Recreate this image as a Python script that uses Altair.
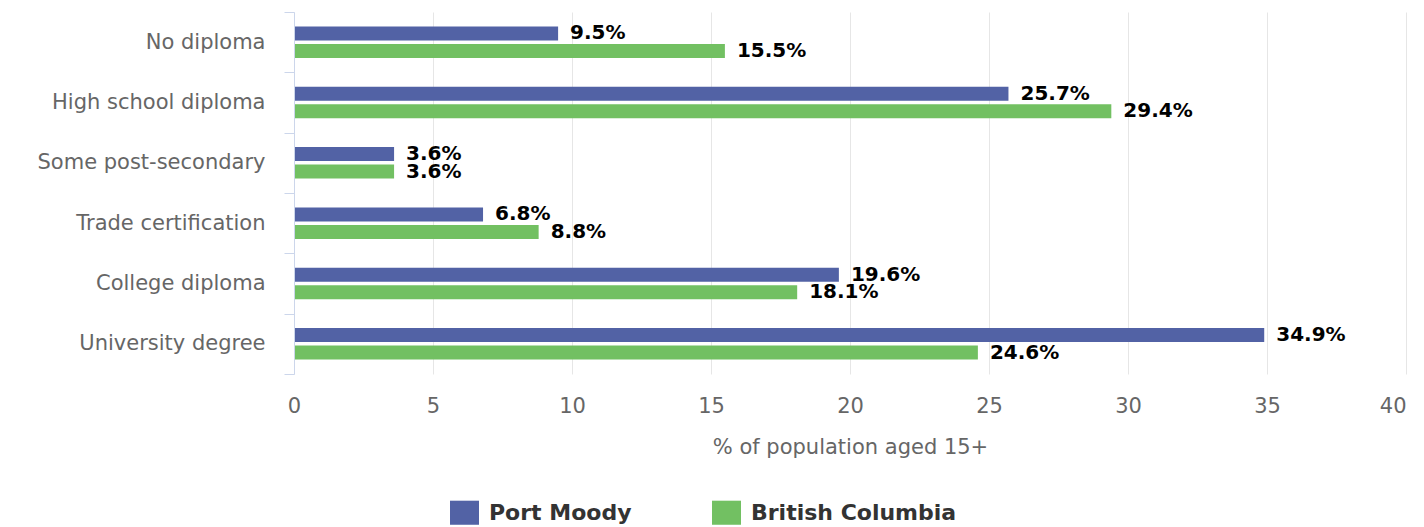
import altair as alt
import pandas as pd

categories = ["No diploma", "High school diploma", "Some post-secondary",
              "Trade certification", "College diploma", "University degree"]
series = ["Port Moody", "British Columbia"]
port_moody = [9.5, 25.7, 3.6, 6.8, 19.6, 34.9]
british_columbia = [15.5, 29.4, 3.6, 8.8, 18.1, 24.6]
colors = ["#5262a5", "#72c062"]
x_ticks = [0, 5, 10, 15, 20, 25, 30, 35, 40]

rows = []
for i, c in enumerate(categories):
    rows.append({"category": c, "series": series[0], "value": port_moody[i]})
    rows.append({"category": c, "series": series[1], "value": british_columbia[i]})
df = pd.DataFrame(rows)

FONT = "DejaVu Sans"

base = alt.Chart(df).transform_calculate(
    label="format(datum.value, '.1f') + '%'"
).encode(
    y=alt.Y("category:N", sort=categories,
            scale=alt.Scale(paddingInner=0, paddingOuter=0),
            axis=alt.Axis(title=None, labelFontSize=21, labelColor="#666666",
                          labelFont=FONT, labelPadding=19, labelLimit=400,
                          tickBand="extent", tickColor="#ccd6eb", tickSize=10,
                          domainColor="#ccd6eb", domainWidth=1, grid=False,
                          zindex=2)),
    yOffset=alt.YOffset("series:N", sort=series,
                        scale=alt.Scale(paddingInner=0.2, paddingOuter=0.82)),
    x=alt.X("value:Q", scale=alt.Scale(domain=[0, 40], nice=False),
            axis=alt.Axis(values=x_ticks, title="% of population aged 15+",
                          domain=False, ticks=False, tickSize=0,
                          grid=True, gridColor="#e6e6e6", gridWidth=1,
                          labelFlush=False,
                          labelAlign={"condition": {"test": "datum.value == 40", "value": "right"},
                                      "value": "center"},
                          labelFontSize=21, labelColor="#666666", labelFont=FONT,
                          labelPadding=21, titleFontSize=21, titleColor="#666666",
                          titleFont=FONT, titleFontWeight="normal", titlePadding=20,
                          zindex=0)),
)

bars = base.mark_bar().encode(
    color=alt.Color("series:N", sort=series,
                    scale=alt.Scale(domain=series, range=colors),
                    legend=alt.Legend(title=None, orient="none", direction="horizontal",
                                      legendX=156, legendY=486, padding=0,
                                      symbolType="M-1,-0.83L1,-0.83L1,0.83L-1,0.83Z",
                                      symbolSize=841, symbolStrokeWidth=0,
                                      symbolOpacity=1,
                                      labelFontSize=22, labelFontWeight="bold",
                                      labelColor="#333333", labelFont=FONT,
                                      labelOffset=10, columnPadding=80,
                                      labelLimit=400))
)

labels = base.mark_text(align="left", baseline="middle", dx=12, fontSize=20,
                        fontWeight="bold", color="#000000", font=FONT).encode(
    text="label:N"
)

chart = alt.layer(bars, labels).properties(
    width=1112, height=362,
    autosize=alt.AutoSizeParams(type="none"),
    padding={"left": 286, "top": 4, "right": 10, "bottom": 152},
).configure(font=FONT).configure_view(stroke=None)

chart.save("out.html", embed_options={"renderer": "svg", "actions": False})
